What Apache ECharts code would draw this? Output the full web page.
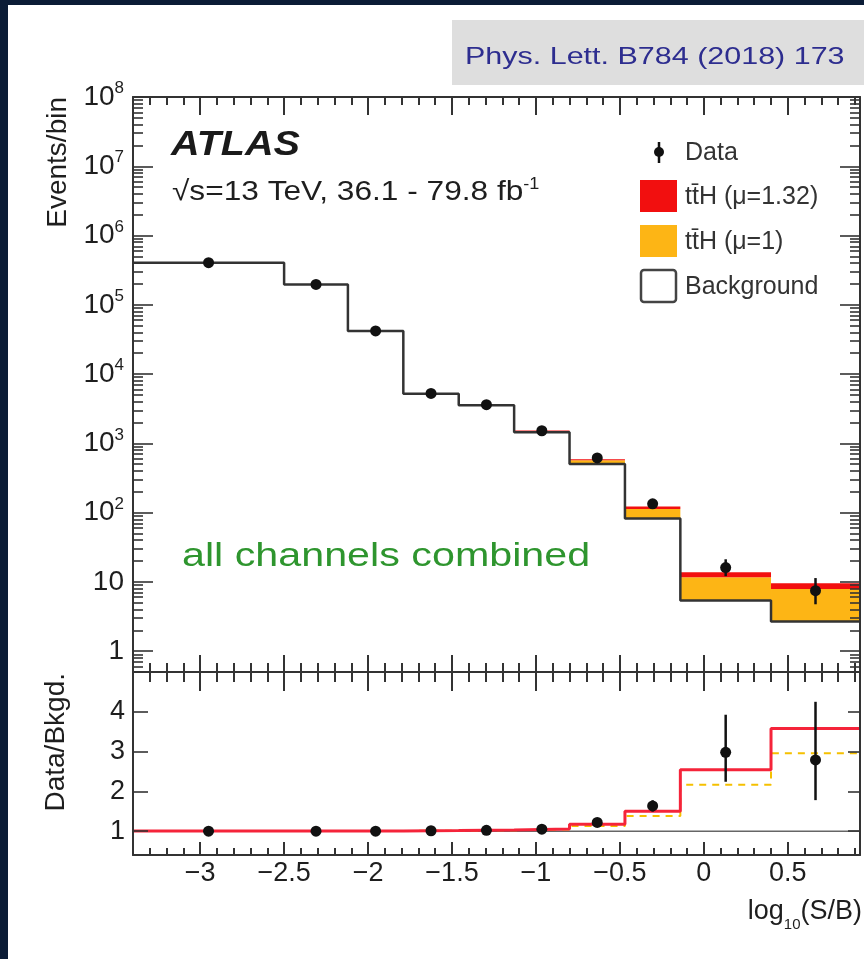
<!DOCTYPE html>
<html>
<head>
<meta charset="utf-8">
<script src="https://cdn.jsdelivr.net/npm/echarts@6/dist/echarts.min.js"></script>
<style>
  html, body { margin: 0; padding: 0; background: #ffffff; }
  #chart { width: 864px; height: 959px; }
</style>
</head>
<body>
<div id="chart"></div>
<script>
// Bin edges in log10(S/B)
const binEdges = [-3.4, -2.5, -2.12, -1.79, -1.46, -1.13, -0.80, -0.47, -0.14, 0.40, 0.93];
// Expected background yield per bin
const background = [405000, 197000, 42000, 5200, 3550, 1450, 505, 82, 5.4, 2.67];
// ttH signal yield per bin at mu = 1
const signalMu1 = [600, 450, 190, 59, 81, 60, 65, 31, 6.3, 5.22];
// Best-fit signal strength
const muBestFit = 1.32;
// Observed events per bin and their uncertainties
const dataCounts = [405000, 197000, 42000, 5250, 3620, 1520, 616, 134, 16.1, 7.45];
const dataErrUp = [640, 445, 205, 73, 60, 39, 25, 11.6, 5.1, 3.9];
const dataErrDown = [640, 445, 205, 72, 60, 39, 25, 11.6, 4.0, 2.7];
// Axis tick labels
const xMajorTicks = [-3, -2.5, -2, -1.5, -1, -0.5, 0, 0.5];
const yDecades = [1, 10, 100, 1e3, 1e4, 1e5, 1e6, 1e7, 1e8];
const ratioTicks = [1, 2, 3, 4];

const X_MIN = binEdges[0];
const X_MAX = binEdges[binEdges.length - 1];
const Y_MIN = 0.5, Y_MAX = 1e8;
const R_MIN = 0.4, R_MAX = 5;

const FONT = '"Liberation Sans", Arial, Helvetica, sans-serif';
const INK = '#1e1e1e';
const FRAME = '#333333';

// minor tick positions
const xMinorTicks = [];
for (let k = Math.round(X_MIN * 10); k <= Math.floor(X_MAX * 10); k++) {
  if (k % 5 !== 0) xMinorTicks.push(k / 10);
}
const yMinorTicks = [];
[0.1].concat(yDecades.slice(0, -1)).forEach(d => {
  for (let m = 2; m <= 9; m++) {
    const v = Number((m * d).toPrecision(3));
    if (v >= Y_MIN && v <= Y_MAX) yMinorTicks.push(v);
  }
});

const binCenters = binEdges.slice(0, -1).map((e, i) => (e + binEdges[i + 1]) / 2);
const stackMu1 = background.map((b, i) => b + signalMu1[i]);
const stackFit = background.map((b, i) => b + muBestFit * signalMu1[i]);
const ratioMu1 = stackMu1.map((v, i) => v / background[i]);
const ratioFit = stackFit.map((v, i) => v / background[i]);
const dataRatio = dataCounts.map((d, i) => d / background[i]);

function stepPoints(values) {
  const pts = [];
  values.forEach((v, i) => { pts.push([binEdges[i], v], [binEdges[i + 1], v]); });
  return pts;
}

function xAxis(grid, position, ticks, len, extra) {
  return Object.assign({
    type: 'value', gridIndex: grid, position: position, min: X_MIN, max: X_MAX, z: 10,
    axisLine: { show: false, onZero: false },
    axisTick: { show: true, inside: true, length: len, customValues: ticks,
                lineStyle: { color: FRAME, width: 2 } },
    axisLabel: { show: false },
    splitLine: { show: false }
  }, extra || {});
}
function frameLine() { return { show: true, onZero: false, lineStyle: { color: FRAME, width: 2 } }; }

function logAxis(position, ticks, len, extra) {
  return Object.assign({
    type: 'log', logBase: 10, gridIndex: 0, position: position, min: Y_MIN, max: Y_MAX, z: 10,
    axisLine: { show: false, onZero: false },
    axisTick: { show: true, inside: true, length: len, customValues: ticks,
                lineStyle: { color: FRAME, width: 1.6 } },
    axisLabel: { show: false },
    splitLine: { show: false }
  }, extra || {});
}
function ratioAxis(position, len, extra) {
  return Object.assign({
    type: 'value', gridIndex: 1, position: position, min: R_MIN, max: R_MAX, z: 10,
    axisLine: frameLine(),
    axisTick: { show: true, inside: true, length: len, customValues: ratioTicks,
                lineStyle: { color: FRAME, width: 1.6 } },
    axisLabel: { show: false },
    splitLine: { show: false }
  }, extra || {});
}

function bandSeries(name, lower, upper, color) {
  return {
    type: 'custom', name: name, xAxisIndex: 0, yAxisIndex: 0, z: 2,
    data: lower.map((lo, i) => [binEdges[i], binEdges[i + 1], lo, upper[i]]),
    encode: { x: [0, 1], y: [2, 3] },
    renderItem: function (params, api) {
      const p0 = api.coord([api.value(0), api.value(3)]);
      const p1 = api.coord([api.value(1), api.value(2)]);
      return { type: 'rect',
               shape: { x: p0[0], y: p0[1], width: p1[0] - p0[0], height: p1[1] - p0[1] },
               style: { fill: color } };
    }
  };
}

function errorSeries(xIdx, yIdx, lows, highs) {
  return {
    type: 'custom', xAxisIndex: xIdx, yAxisIndex: yIdx, z: 5,
    data: binCenters.map((x, i) => [x, lows[i], highs[i]]),
    encode: { x: 0, y: [1, 2] },
    renderItem: function (params, api) {
      const a = api.coord([api.value(0), api.value(1)]);
      const b = api.coord([api.value(0), api.value(2)]);
      return { type: 'line', shape: { x1: a[0], y1: a[1], x2: b[0], y2: b[1] },
               style: { stroke: '#111111', lineWidth: 2.5 } };
    }
  };
}

const xLabelFmt = v => (v < 0 ? '\u2212' : '') + Math.abs(v);

const option = {
  animation: false,
  backgroundColor: '#ffffff',
  grid: [
    { left: 133, top: 97, width: 727, height: 575 },
    { left: 133, top: 672, width: 727, height: 183 }
  ],
  xAxis: [
    xAxis(0, 'bottom', xMajorTicks, 17, { axisLine: frameLine() }),
    xAxis(0, 'bottom', xMinorTicks, 9),
    xAxis(0, 'top', xMajorTicks, 18, { axisLine: frameLine() }),
    xAxis(0, 'top', xMinorTicks, 8),
    xAxis(1, 'bottom', xMajorTicks, 13, {
      axisLine: frameLine(),
      axisLabel: { show: true, customValues: xMajorTicks, formatter: xLabelFmt,
                   fontFamily: FONT, fontSize: 27, color: INK, margin: 5 }
    }),
    xAxis(1, 'bottom', xMinorTicks, 7),
    xAxis(1, 'top', xMajorTicks, 19, { axisLine: frameLine() }),
    xAxis(1, 'top', xMinorTicks, 10)
  ],
  yAxis: [
    logAxis('left', yDecades, 20, {
      axisLine: frameLine(),
      axisLabel: {
        show: true, customValues: yDecades, margin: 9, color: INK,
        formatter: function (v) {
          const e = Math.round(Math.log10(v));
          if (e === 0) return '{n|1}';
          if (e === 1) return '{n|10}';
          return '{b|10}{s|' + e + '}';
        },
        rich: {
          n: { fontFamily: FONT, fontSize: 28, color: INK, lineHeight: 34, verticalAlign: 'middle' },
          b: { fontFamily: FONT, fontSize: 28, color: INK, lineHeight: 34, verticalAlign: 'middle' },
          s: { fontFamily: FONT, fontSize: 17, color: INK, lineHeight: 17, verticalAlign: 'top' }
        }
      }
    }),
    logAxis('left', yMinorTicks, 10),
    logAxis('right', yDecades, 20, { axisLine: frameLine() }),
    logAxis('right', yMinorTicks, 10),
    ratioAxis('left', 15, {
      axisLabel: { show: true, customValues: ratioTicks, fontFamily: FONT, fontSize: 27,
                   color: INK, margin: 8 }
    }),
    ratioAxis('right', 12)
  ],
  series: [
    // upper panel: stacked signal on top of background
    bandSeries('tt\u0304H (\u03bc=1)', background, stackMu1, '#fdb515'),
    bandSeries('tt\u0304H (\u03bc=1.32)', stackMu1, stackFit, '#f20f0f'),
    {
      type: 'line', name: 'Background', xAxisIndex: 0, yAxisIndex: 0, z: 3,
      data: stepPoints(background), symbol: 'none',
      lineStyle: { color: '#333333', width: 2.5 }
    },
    errorSeries(0, 0, dataCounts.map((d, i) => d - dataErrDown[i]),
                      dataCounts.map((d, i) => d + dataErrUp[i])),
    {
      type: 'scatter', name: 'Data', xAxisIndex: 0, yAxisIndex: 0, z: 6,
      data: binCenters.map((x, i) => [x, dataCounts[i]]),
      symbol: 'circle', symbolSize: 11, itemStyle: { color: '#111111', opacity: 1 }
    },
    // lower panel: ratios to background
    {
      type: 'line', xAxisIndex: 4, yAxisIndex: 4, z: 2,
      data: [[X_MIN, 1], [X_MAX, 1]], symbol: 'none',
      lineStyle: { color: '#666666', width: 1.5 }
    },
    {
      type: 'line', xAxisIndex: 4, yAxisIndex: 4, z: 3,
      data: stepPoints(ratioMu1), symbol: 'none',
      lineStyle: { color: '#f5c000', width: 2, type: [7, 6] }
    },
    {
      type: 'line', xAxisIndex: 4, yAxisIndex: 4, z: 4,
      data: stepPoints(ratioFit), symbol: 'none',
      lineStyle: { color: '#f5243a', width: 3 }
    },
    errorSeries(4, 4, dataCounts.map((d, i) => (d - dataErrDown[i]) / background[i]),
                      dataCounts.map((d, i) => (d + dataErrUp[i]) / background[i])),
    {
      type: 'scatter', xAxisIndex: 4, yAxisIndex: 4, z: 6,
      data: binCenters.map((x, i) => [x, dataRatio[i]]),
      symbol: 'circle', symbolSize: 11, itemStyle: { color: '#111111', opacity: 1 }
    }
  ],
  graphic: [
    // page frame
    { type: 'rect', shape: { x: 0, y: 0, width: 864, height: 5 }, style: { fill: '#0b1c36' } },
    { type: 'rect', shape: { x: 0, y: 0, width: 8, height: 959 }, style: { fill: '#0b1c36' } },
    // reference box
    { type: 'rect', shape: { x: 452, y: 20, width: 412, height: 65 }, style: { fill: '#dedede' } },
    { type: 'text', x: 465, y: 57, scaleX: 1.27,
      style: { text: 'Phys. Lett. B784 (2018) 173', font: '24px ' + FONT, fill: '#2d2d8f',
               align: 'left', verticalAlign: 'middle', textAlign: 'left', textVerticalAlign: 'middle' } },
    // experiment label
    { type: 'text', x: 171, y: 145, scaleX: 1.13,
      style: { text: 'ATLAS', font: 'italic bold 35px ' + FONT, fill: '#1a1a1a',
               align: 'left', verticalAlign: 'middle', textAlign: 'left', textVerticalAlign: 'middle' } },
    { type: 'text', x: 172, y: 192, scaleX: 1.13,
      style: { text: '{a|\u221as=13 TeV, 36.1 - 79.8 fb}{s|-1}', fill: INK,
               align: 'left', verticalAlign: 'middle', textAlign: 'left', textVerticalAlign: 'middle',
               rich: {
                 a: { fontFamily: FONT, fontSize: 28, lineHeight: 30, verticalAlign: 'middle', fill: INK },
                 s: { fontFamily: FONT, fontSize: 16, lineHeight: 16, verticalAlign: 'top', fill: INK }
               } } },
    { type: 'text', x: 182, y: 557, scaleX: 1.25,
      style: { text: 'all channels combined', font: '33px ' + FONT, fill: '#2e952e',
               align: 'left', verticalAlign: 'middle', textAlign: 'left', textVerticalAlign: 'middle' } },
    // legend
    { type: 'line', shape: { x1: 659, y1: 142, x2: 659, y2: 163 }, style: { stroke: '#111111', lineWidth: 2.5 } },
    { type: 'circle', shape: { cx: 659, cy: 152, r: 5 }, style: { fill: '#111111' } },
    { type: 'rect', shape: { x: 640, y: 180, width: 37, height: 32 }, style: { fill: '#f20f0f' } },
    { type: 'rect', shape: { x: 640, y: 225, width: 37, height: 32 }, style: { fill: '#fdb515' } },
    { type: 'rect', shape: { x: 641, y: 270, width: 35, height: 32, r: 3 },
      style: { fill: '#ffffff', stroke: '#444444', lineWidth: 2.5 } },
    { type: 'text', x: 685, y: 153,
      style: { text: 'Data', font: '25px ' + FONT, fill: '#333333',
               align: 'left', verticalAlign: 'middle', textAlign: 'left', textVerticalAlign: 'middle' } },
    { type: 'text', x: 685, y: 197,
      style: { text: 'tt\u0304H (\u03bc=1.32)', font: '25px ' + FONT, fill: '#333333',
               align: 'left', verticalAlign: 'middle', textAlign: 'left', textVerticalAlign: 'middle' } },
    { type: 'text', x: 685, y: 242,
      style: { text: 'tt\u0304H (\u03bc=1)', font: '25px ' + FONT, fill: '#333333',
               align: 'left', verticalAlign: 'middle', textAlign: 'left', textVerticalAlign: 'middle' } },
    { type: 'text', x: 685, y: 287,
      style: { text: 'Background', font: '25px ' + FONT, fill: '#333333',
               align: 'left', verticalAlign: 'middle', textAlign: 'left', textVerticalAlign: 'middle' } },
    // axis titles
    { type: 'text', x: 58, y: 97, rotation: Math.PI / 2,
      style: { text: 'Events/bin', font: '28px ' + FONT, fill: INK,
               align: 'right', verticalAlign: 'middle', textAlign: 'right', textVerticalAlign: 'middle' } },
    { type: 'text', x: 56, y: 673, rotation: Math.PI / 2,
      style: { text: 'Data/Bkgd.', font: '28px ' + FONT, fill: INK,
               align: 'right', verticalAlign: 'middle', textAlign: 'right', textVerticalAlign: 'middle' } },
    { type: 'text', x: 862, y: 912,
      style: { text: '{a|log}{s|10}{a|(S/B)}', fill: INK,
               align: 'right', verticalAlign: 'middle', textAlign: 'right', textVerticalAlign: 'middle',
               rich: {
                 a: { fontFamily: FONT, fontSize: 27, lineHeight: 40, verticalAlign: 'middle', fill: INK },
                 s: { fontFamily: FONT, fontSize: 15, lineHeight: 14, verticalAlign: 'bottom', fill: INK }
               } } }
  ]
};

const chart = echarts.init(document.getElementById('chart'), null, { renderer: 'canvas' });
chart.setOption(option);
</script>
</body>
</html>
